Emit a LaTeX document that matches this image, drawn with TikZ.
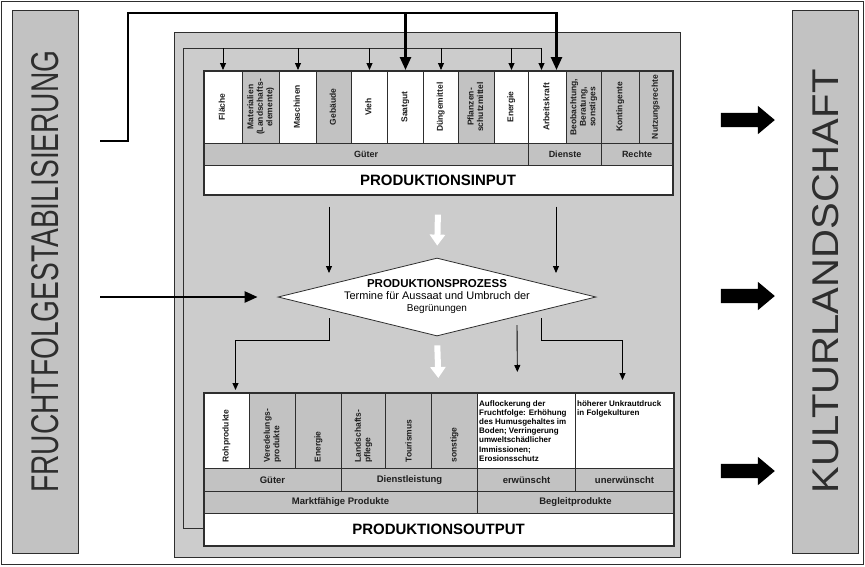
\documentclass[tikz,border=0pt]{standalone}
\usepackage{fontspec}
\setmainfont{Liberation Sans}
\usetikzlibrary{arrows.meta,shapes.geometric,shapes.arrows}

\definecolor{panelgrau}{gray}{0.80}
\definecolor{zellgrau}{gray}{0.76}
\definecolor{randgrau}{gray}{0.18}
\definecolor{textgrau}{gray}{0.12}

\tikzset{
  zelle/.style={rectangle, draw=randgrau, line width=1pt, inner sep=0pt, anchor=north west, text=textgrau},
  spalte/.style={zelle, minimum height=73pt, font=\fontsize{8.5}{9.5}\selectfont\bfseries},
  ospalte/.style={zelle, fill=zellgrau, minimum height=76pt, font=\fontsize{8.5}{9.5}\selectfont\bfseries},
  zeile/.style={zelle, fill=zellgrau, font=\fontsize{9}{10}\selectfont\bfseries},
  ozeile/.style={zelle, fill=zellgrau, font=\fontsize{9.5}{10}\selectfont\bfseries},
  titel/.style={zelle, fill=white, text=black, font=\fontsize{15}{16}\selectfont\bfseries},
  block/.style={rectangle, draw=randgrau, line width=1.6pt, inner sep=0pt, anchor=north west},
  balken/.style={rectangle, draw=randgrau, line width=0.8pt, fill=zellgrau, text=randgrau,
    minimum width=66pt, minimum height=543pt, inner sep=0pt},
  dickpfeil/.style={-{Triangle[length=13pt, width=11pt]}, line width=2.5pt},
  duennpfeil/.style={-{Triangle[length=7pt, width=6pt]}, line width=0.9pt},
  weisspfeil/.style={-{Triangle[length=11pt, width=15pt]}, line width=6pt, white},
  blockpfeil/.style={single arrow, fill=black, draw=none, minimum height=54pt,
    inner ysep=7pt, inner xsep=0pt, single arrow head extend=7pt, single arrow tip angle=80},
}

\begin{document}
\begin{tikzpicture}[x=1pt, y=-1pt]
  \useasboundingbox (0,0) rectangle (865,566);
  \draw[randgrau, line width=0.6pt] (1.5,1.5) rectangle (863.5,564.5);

  % Seitenbalken
  \node[balken] (fruchtbar) at (45,281.5)
    {\rotatebox{90}{\hspace{20pt}\resizebox{442pt}{27pt}{FRUCHTFOLGESTABILISIERUNG}}};
  \node[balken] (kulturbar) at (825.5,281.5)
    {\rotatebox{90}{\resizebox{424pt}{26pt}{KULTURLANDSCHAFT}}};

  % Grauer Hintergrund
  \node[rectangle, draw=randgrau, line width=0.8pt, fill=panelgrau, inner sep=0pt,
    minimum width=506pt, minimum height=525pt, anchor=north west] (panel) at (174,32) {};

  % Obere Reihe: Produktionsinput
  \foreach \xl/\xr/\txt/\fb [count=\i] in {
      203/242/Fläche/white,
      242/279/{Materialien\\(Landschafts-\\elemente)}/zellgrau,
      279/316/Maschinen/white,
      316/351/Gebäude/zellgrau,
      351/387/Vieh/white,
      387/423/Saatgut/white,
      423/458/Düngemittel/white,
      458/494/{Pflanzen-\\schutzmittel}/zellgrau,
      494/528/Energie/white,
      528/566/Arbeitskraft/white,
      566/601/{Beobachtung,\\Beratung,\\sonstiges}/zellgrau,
      601/639/Kontingente/zellgrau,
      639/672/Nutzungsrechte/zellgrau} {
    \pgfmathsetmacro\breite{\xr-\xl}
    \node[spalte, fill=\fb, minimum width=\breite pt] (in\i) at (\xl,70)
      {\rotatebox{90}{\begin{tabular}{@{}c@{}}\txt\end{tabular}}};
  }
  \node[zeile, minimum width=325pt, minimum height=22pt] (gueter) at (203,143) {Güter};
  \node[zeile, minimum width=73pt, minimum height=22pt] (dienste) at (528,143) {Dienste};
  \node[zeile, minimum width=71pt, minimum height=22pt] (rechte) at (601,143) {Rechte};
  \node[titel, minimum width=469pt, minimum height=29pt] (input) at (203,165) {PRODUKTIONSINPUT};
  \node[block, minimum width=469pt, minimum height=124pt] (inblock) at (203,70) {};

  % Mitte: Produktionsprozess
  \node[diamond, draw=randgrau, line width=0.8pt, fill=white, aspect=4, inner sep=0pt,
    minimum width=318pt, minimum height=78pt] (prozess) at (437,297) {};
  \node[align=center, text=black] (prozesstext) at (prozess.center)
    {{\fontsize{11.5}{13}\selectfont\bfseries PRODUKTIONSPROZESS}\\
     \fontsize{11}{13.5}\selectfont Termine für Aussaat und Umbruch der\\Begrünungen};

  % Untere Reihe: Produktionsoutput
  \foreach \xl/\xr/\txt/\fb [count=\i] in {
      203/249/Rohprodukte/white,
      249/295/{Veredelungs-\\produkte}/zellgrau,
      295/341/Energie/zellgrau,
      341/385/{Landschafts-\\pflege}/zellgrau,
      385/431/Tourismus/zellgrau,
      431/477/sonstige/zellgrau} {
    \pgfmathsetmacro\breite{\xr-\xl}
    \node[ospalte, fill=\fb, minimum width=\breite pt] (out\i) at (\xl,392)
      {\rotatebox{90}{\parbox{64pt}{\raggedright\txt}}};
  }
  \node[zelle, fill=white, minimum width=98pt, minimum height=76pt] (wirk1) at (477,392) {};
  \node[zelle, fill=white, minimum width=98pt, minimum height=76pt] (wirk2) at (575,392) {};
  \node[anchor=north west, inner sep=0pt, align=left, text=black,
    font=\fontsize{8}{9.2}\selectfont\bfseries] (wirk1text) at ([shift={(2pt,-8pt)}]wirk1.north west)
    {Auflockerung der\\Fruchtfolge: Erhöhung\\des Humusgehaltes im\\Boden; Verringerung\\umweltschädlicher\\Immissionen;\\Erosionsschutz};
  \node[anchor=north west, inner sep=0pt, align=left, text=black,
    font=\fontsize{8}{9.2}\selectfont\bfseries] (wirk2text) at ([shift={(2pt,-8pt)}]wirk2.north west)
    {höherer Unkrautdruck\\in Folgekulturen};
  \node[ozeile, minimum width=138pt, minimum height=23pt] (gueter2) at (203,468) {Güter};
  \node[ozeile, minimum width=136pt, minimum height=23pt] (dienstl) at (341,468) {Dienstleistung};
  \node[ozeile, minimum width=98pt, minimum height=23pt] (erw) at (477,468) {erwünscht};
  \node[ozeile, minimum width=98pt, minimum height=23pt] (unerw) at (575,468) {unerwünscht};
  \node[ozeile, minimum width=274pt, minimum height=22pt] (markt) at (203,491) {Marktfähige Produkte};
  \node[ozeile, minimum width=196pt, minimum height=22pt] (begleit) at (477,491) {Begleitprodukte};
  \node[titel, minimum width=470pt, minimum height=32pt] (output) at (203,513) {PRODUKTIONSOUTPUT};
  \node[block, minimum width=470pt, minimum height=153pt] (outblock) at (203,392) {};

  % Rueckkopplung innen
  \coordinate (rueckoben) at (183,48);
  \coordinate (rueckunten) at (183,528);
  \draw[randgrau, line width=0.9pt] (rueckunten -| outblock.west) -- (rueckunten)
    -- (rueckoben) -- ([xshift=-6pt]in10.north |- rueckoben);
  \foreach \k in {1,3,5,7,9}
    \draw[duennpfeil] (in\k.north |- rueckoben) -- (in\k.north);
  \draw[duennpfeil] ([xshift=-6pt]in10.north |- rueckoben) -- ([xshift=-6pt]in10.north);

  % Fruchtfolge -> Input (dick)
  \coordinate (fstart) at (100,141);
  \coordinate (fknick) at (128,13);
  \draw[dickpfeil] (fstart) -| (fknick) -| ([xshift=9pt]in10.north);
  \draw[dickpfeil] (in6.north |- fknick) -- (in6.north);

  % Fruchtfolge -> Prozess
  \draw[dickpfeil, shorten <=22pt, shorten >=20pt] (fruchtbar.east |- prozess.west) -- (prozess.west);

  % Input -> Prozess
  \coordinate (pl) at (329,273);
  \coordinate (pr) at (556,273);
  \draw[duennpfeil, shorten <=11pt] (pl |- inblock.south) -- (pl);
  \draw[duennpfeil, shorten <=11pt] (pr |- inblock.south) -- (pr);
  \draw[weisspfeil, shorten <=19pt, shorten >=12pt] (inblock.south) -- (prozess.north);

  % Prozess -> Output
  \coordinate (ul) at (329,318);
  \coordinate (um) at (517,325);
  \coordinate (ur) at (541,318);
  \draw[duennpfeil, shorten >=2pt] (ul) -- ++(0,22) -| ([xshift=9pt]out1.north);
  \draw[duennpfeil, shorten >=20pt] (um) -- ([xshift=-9pt]wirk1.north);
  \draw[duennpfeil, shorten >=12pt] (ur) -- ++(0,22) -| ([xshift=-2pt]wirk2.north);
  \draw[weisspfeil, shorten <=9pt, shorten >=14pt] (prozess.south) -- (outblock.north);

  % Wirkung auf die Kulturlandschaft
  \foreach \y [count=\j] in {120,296,471}
    \node[blockpfeil] (pfeil\j) at (743.5,\y) {};
\end{tikzpicture}
\end{document}
